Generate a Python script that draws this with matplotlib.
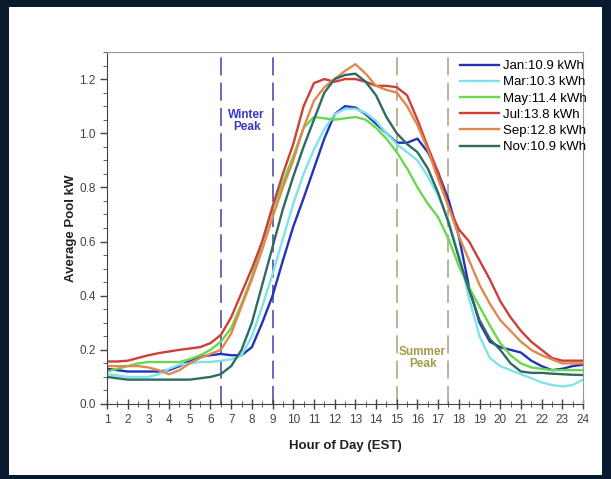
import numpy as np
import matplotlib
matplotlib.use("Agg")
import matplotlib.pyplot as plt
from matplotlib.patches import Rectangle
from matplotlib.ticker import MultipleLocator

plt.rcParams["font.family"] = ["Liberation Sans", "DejaVu Sans"]

# --------------------------------------------------
# Data: average pool kW, sampled every half hour (hour 1 .. 24)
# --------------------------------------------------
hours = [1 + 0.5 * i for i in range(47)]

jan = [0.13, 0.125, 0.12, 0.12, 0.12, 0.12, 0.125, 0.14, 0.16, 0.175, 0.18, 0.185,
       0.18, 0.18, 0.21, 0.30, 0.40, 0.53, 0.655, 0.76, 0.87, 0.98, 1.07, 1.10,
       1.095, 1.07, 1.035, 1.00, 0.965, 0.965, 0.98, 0.93, 0.855, 0.755, 0.62, 0.43,
       0.30, 0.23, 0.21, 0.20, 0.19, 0.16, 0.14, 0.125, 0.13, 0.14, 0.145]
mar = [0.11, 0.105, 0.10, 0.10, 0.10, 0.11, 0.13, 0.145, 0.15, 0.155, 0.155, 0.16,
       0.165, 0.18, 0.25, 0.36, 0.48, 0.61, 0.74, 0.85, 0.94, 1.015, 1.07, 1.09,
       1.09, 1.075, 1.045, 1.00, 0.96, 0.93, 0.90, 0.84, 0.77, 0.68, 0.55, 0.39,
       0.25, 0.17, 0.14, 0.125, 0.11, 0.095, 0.08, 0.07, 0.065, 0.07, 0.09]
may = [0.12, 0.13, 0.14, 0.15, 0.155, 0.155, 0.155, 0.155, 0.165, 0.18, 0.20, 0.23,
       0.28, 0.37, 0.47, 0.60, 0.72, 0.82, 0.915, 1.02, 1.06, 1.055, 1.05, 1.055,
       1.06, 1.05, 1.02, 0.98, 0.93, 0.87, 0.80, 0.74, 0.69, 0.61, 0.51, 0.43,
       0.36, 0.29, 0.225, 0.18, 0.15, 0.135, 0.13, 0.125, 0.125, 0.125, 0.125]
jul = [0.157, 0.157, 0.16, 0.17, 0.18, 0.188, 0.194, 0.20, 0.205, 0.21, 0.225, 0.255,
       0.32, 0.41, 0.50, 0.60, 0.73, 0.85, 0.96, 1.10, 1.185, 1.20, 1.19, 1.20,
       1.20, 1.19, 1.175, 1.175, 1.17, 1.14, 1.05, 0.95, 0.855, 0.73, 0.645, 0.60,
       0.53, 0.46, 0.38, 0.32, 0.27, 0.23, 0.20, 0.17, 0.16, 0.16, 0.16]
sep = [0.14, 0.14, 0.14, 0.14, 0.135, 0.125, 0.11, 0.125, 0.15, 0.17, 0.185, 0.20,
       0.26, 0.36, 0.46, 0.57, 0.69, 0.80, 0.90, 1.02, 1.12, 1.17, 1.20, 1.23,
       1.255, 1.22, 1.175, 1.16, 1.15, 1.10, 1.03, 0.94, 0.83, 0.73, 0.62, 0.53,
       0.44, 0.37, 0.31, 0.27, 0.23, 0.20, 0.18, 0.165, 0.15, 0.15, 0.15]
nov = [0.10, 0.095, 0.09, 0.09, 0.09, 0.09, 0.09, 0.09, 0.09, 0.095, 0.10, 0.11,
       0.14, 0.20, 0.30, 0.44, 0.58, 0.72, 0.84, 0.95, 1.05, 1.15, 1.20, 1.215,
       1.22, 1.19, 1.14, 1.06, 1.00, 0.96, 0.93, 0.87, 0.78, 0.67, 0.54, 0.42,
       0.31, 0.24, 0.20, 0.15, 0.12, 0.115, 0.115, 0.112, 0.11, 0.108, 0.107]

labels = ["Jan:10.9 kWh", "Mar:10.3 kWh", "May:11.4 kWh",
          "Jul:13.8 kWh", "Sep:12.8 kWh", "Nov:10.9 kWh"]
colors = ["#2233b8", "#7fe3ec", "#6ad84c", "#cf3f3a", "#e0884e", "#2f6a63"]

winter_lines = [6.5, 9]
summer_lines = [15, 17.5]

# --------------------------------------------------
# Figure
# --------------------------------------------------
fig = plt.figure(figsize=(6.11, 4.79), dpi=100, facecolor="#0a1a2e")
fig.patches.append(Rectangle((9 / 611, 4 / 479), 593 / 611, 468 / 479,
                             transform=fig.transFigure, facecolor="white",
                             edgecolor="none", zorder=-5))

ax = fig.add_axes([107 / 611, 1 - 404 / 479, 476 / 611, 352 / 479])
ax.set_facecolor("white")

for series, lab, col in zip([jan, mar, may, jul, sep, nov], labels, colors):
    ax.plot(hours, series, color=col, lw=1.7, label=lab, solid_joinstyle="round")

for x in winter_lines:
    ax.axvline(x, color="#5b5fb0", lw=1.3, dashes=(10, 4), zorder=1)
for x in summer_lines:
    ax.axvline(x, color="#b8ae8c", lw=1.3, dashes=(10, 4), zorder=1)

ax.text(7.75, 1.045, "Winter\nPeak", ha="center", va="center", color="#3838c8",
        fontsize=8.5, fontweight="bold", linespacing=0.95)
ax.text(16.25, 0.17, "Summer\nPeak", ha="center", va="center", color="#a29b48",
        fontsize=8.5, fontweight="bold", linespacing=0.95)

ax.set_xlim(1, 24)
ax.set_ylim(0, 1.30)
ax.set_xticks(range(1, 25))
ax.set_yticks([0.0, 0.2, 0.4, 0.6, 0.8, 1.0, 1.2])
ax.set_yticklabels(["0.0", "0.2", "0.4", "0.6", "0.8", "1.0", "1.2"])
ax.xaxis.set_minor_locator(MultipleLocator(0.5))
ax.yaxis.set_minor_locator(MultipleLocator(0.05))
ax.tick_params(axis="x", which="major", direction="inout", length=7, width=1,
               color="#444444", labelsize=8.5, labelcolor="#444444", pad=4)
ax.tick_params(axis="x", which="minor", direction="inout", length=4, color="#444444")
ax.tick_params(axis="y", which="major", direction="out", length=5, width=1,
               color="#444444", labelsize=8.5, labelcolor="#444444", pad=3)
ax.tick_params(axis="y", which="minor", direction="out", length=3, color="#444444")

for side in ["left", "bottom"]:
    ax.spines[side].set_color("#444444")
for side in ["top", "right"]:
    ax.spines[side].set_color("#999999")

ax.set_xlabel("Hour of Day (EST)", fontsize=9.5, fontweight="bold", color="#222222",
              labelpad=10)
ax.set_ylabel("Average Pool kW", fontsize=9.5, fontweight="bold", color="#222222",
              labelpad=2)

ax.legend(loc="upper right", bbox_to_anchor=(1.025, 1.0), frameon=False,
          fontsize=9.5, handlelength=3.0, handletextpad=0.3, labelspacing=0.3,
          borderaxespad=0.2)

fig.savefig("out.png", dpi=100, facecolor=fig.get_facecolor())
